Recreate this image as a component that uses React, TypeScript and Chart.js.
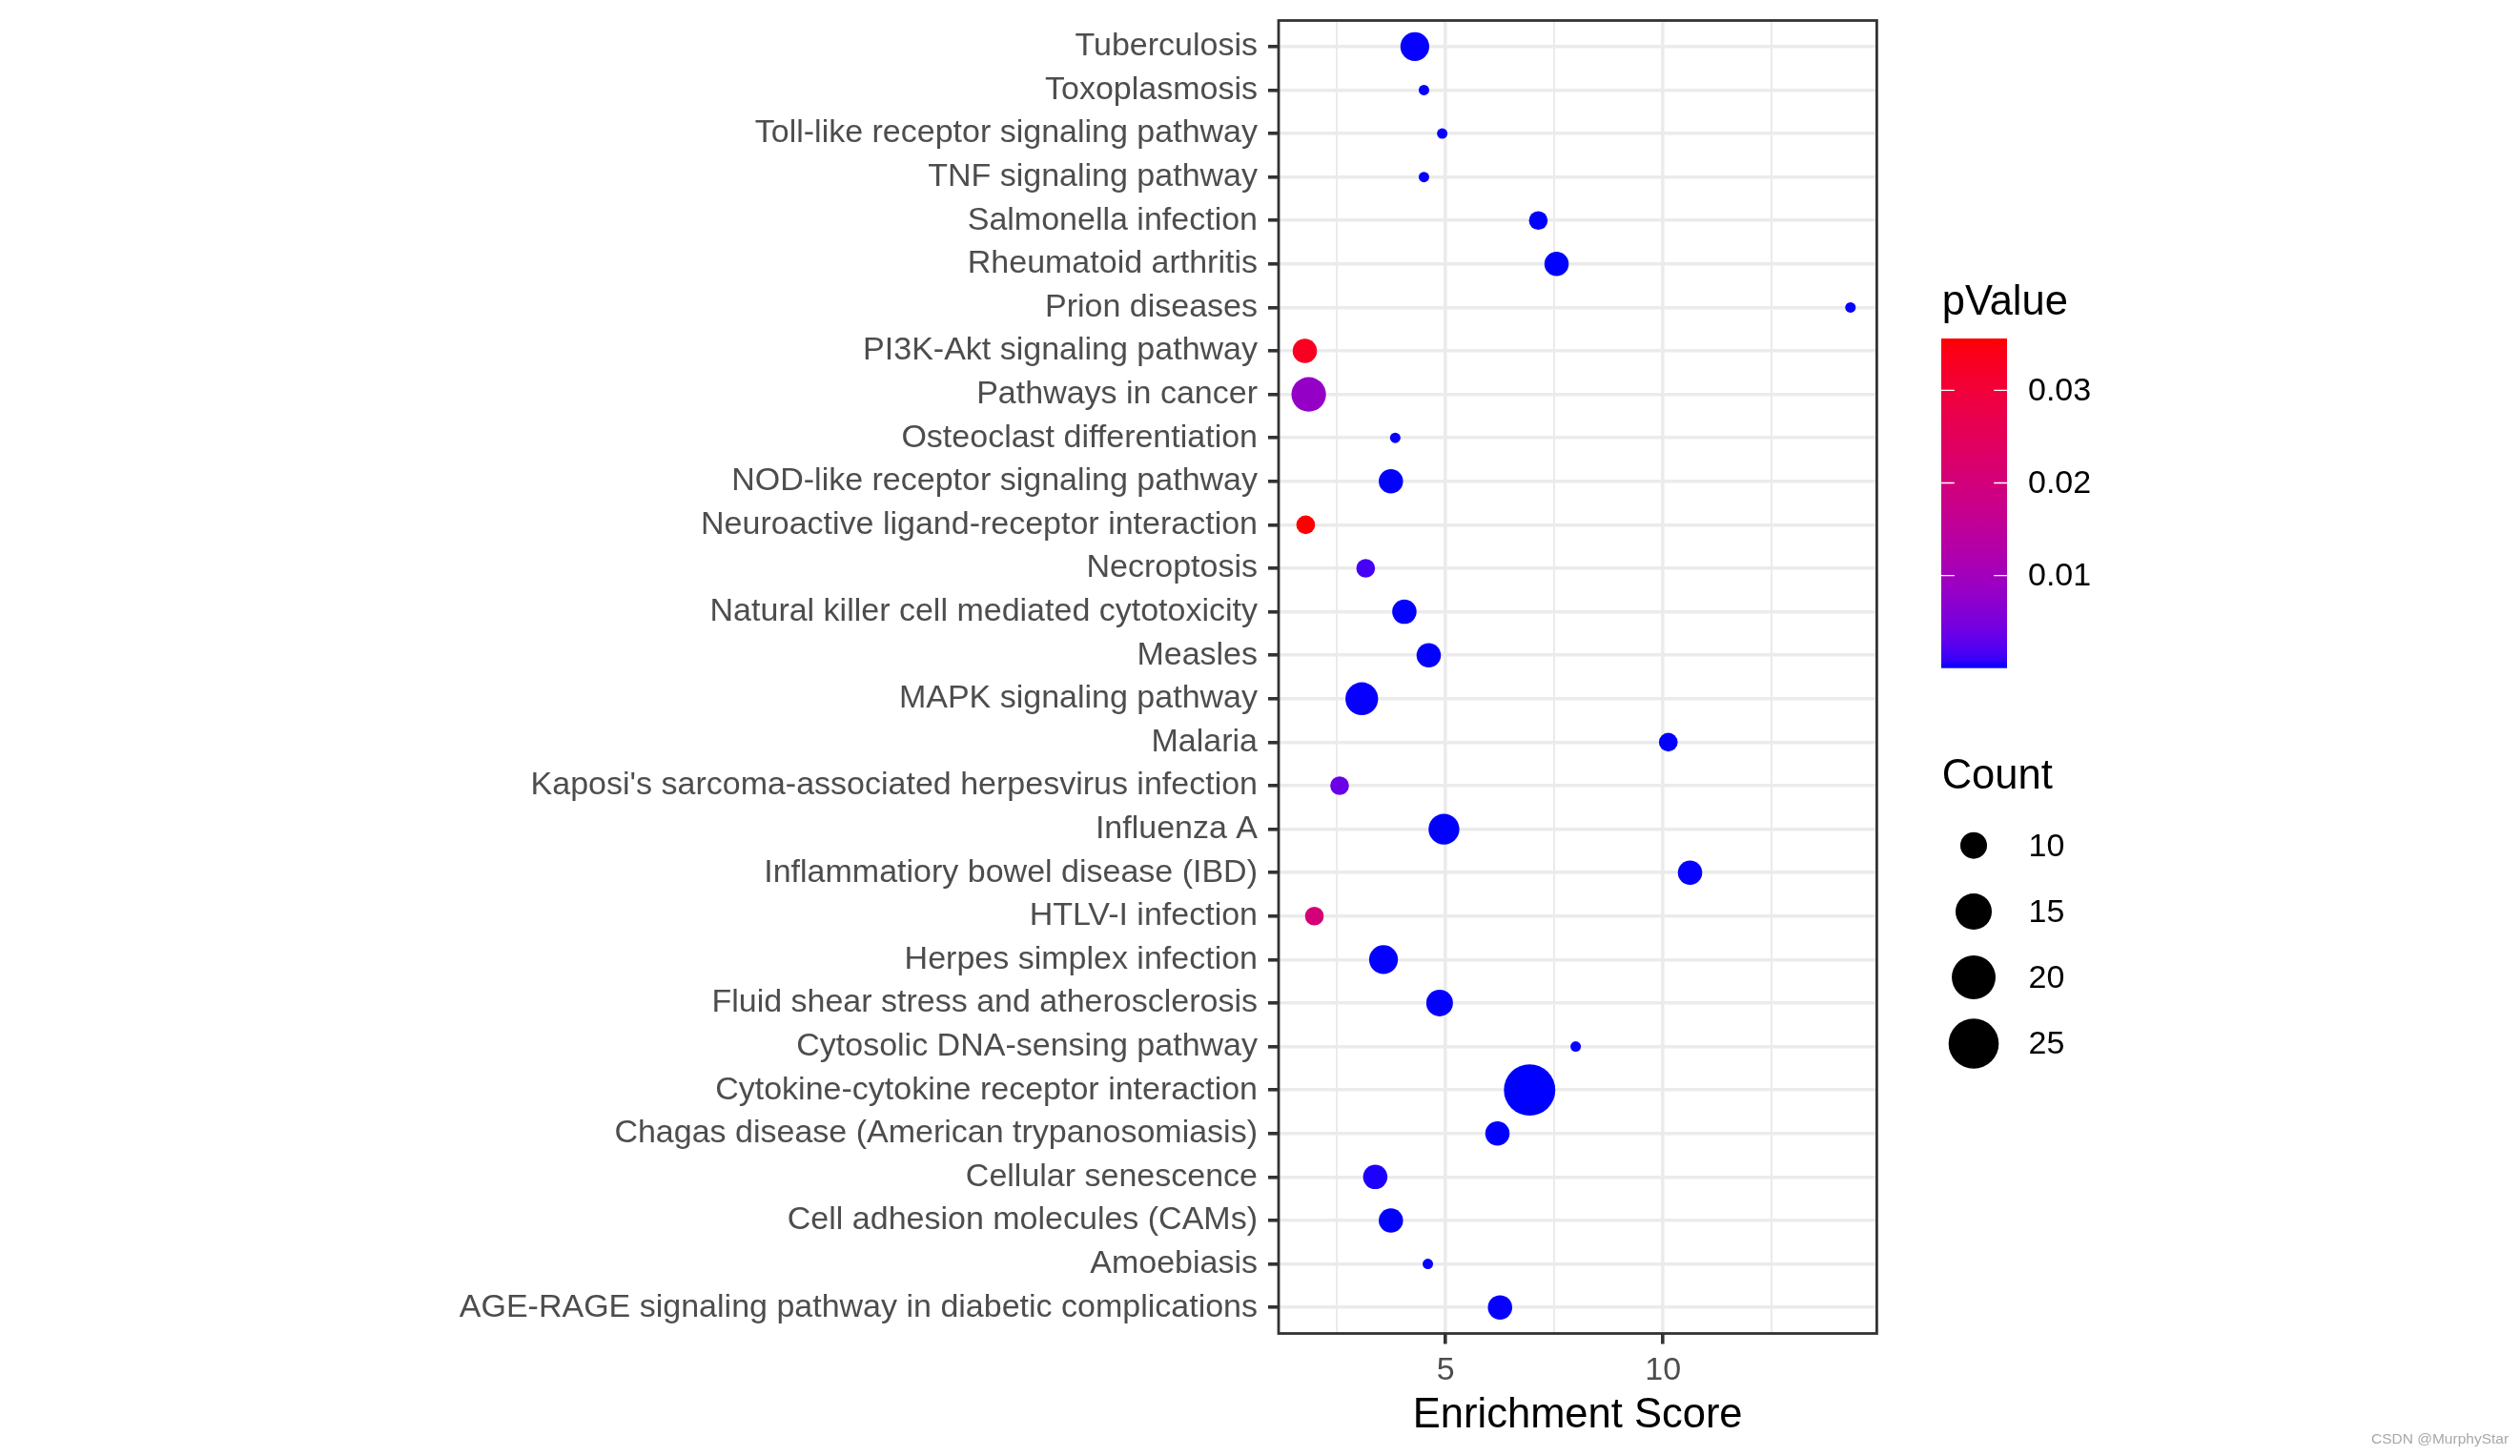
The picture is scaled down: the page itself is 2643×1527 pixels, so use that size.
import React, { useEffect, useRef } from "react";
import { Chart, registerables } from "chart.js";

Chart.register(...registerables);

// ---------------- DATA (listed top to bottom as shown) ----------------
const pathways = [
  "Tuberculosis",
  "Toxoplasmosis",
  "Toll-like receptor signaling pathway",
  "TNF signaling pathway",
  "Salmonella infection",
  "Rheumatoid arthritis",
  "Prion diseases",
  "PI3K-Akt signaling pathway",
  "Pathways in cancer",
  "Osteoclast differentiation",
  "NOD-like receptor signaling pathway",
  "Neuroactive ligand-receptor interaction",
  "Necroptosis",
  "Natural killer cell mediated cytotoxicity",
  "Measles",
  "MAPK signaling pathway",
  "Malaria",
  "Kaposi's sarcoma-associated herpesvirus infection",
  "Influenza A",
  "Inflammatiory bowel disease (IBD)",
  "HTLV-I infection",
  "Herpes simplex infection",
  "Fluid shear stress and atherosclerosis",
  "Cytosolic DNA-sensing pathway",
  "Cytokine-cytokine receptor interaction",
  "Chagas disease (American trypanosomiasis)",
  "Cellular senescence",
  "Cell adhesion molecules (CAMs)",
  "Amoebiasis",
  "AGE-RAGE signaling pathway in diabetic complications",
];

const enrichmentScore = [
  4.29, 4.5, 4.92, 4.5, 7.13, 7.55, 14.31, 1.76, 1.85, 3.84,
  3.74, 1.78, 3.16, 4.05, 4.61, 3.07, 10.12, 2.56, 4.96, 10.62,
  1.98, 3.57, 4.86, 7.99, 6.93, 6.19, 3.38, 3.74, 4.59, 6.25,
];

const geneCount = [
  11, 5, 5, 5, 7, 9, 5, 9, 14, 5,
  9, 7, 7, 9, 9, 13, 7, 7, 12, 9,
  7, 11, 10, 5, 26, 9, 9, 9, 5, 9,
];

const pValue = [
  0.00005, 0.00006, 0.00004, 0.00005, 0.00002, 0.00001, 0.00004, 0.0331, 0.0082, 0.00006,
  0.00003, 0.0356, 0.0015, 0.00004, 0.00003, 0.00006, 0.00003, 0.0036, 0.00001, 0.00004,
  0.0203, 0.00003, 0.00003, 0.00007, 0.000001, 0.00001, 0.0003, 0.00003, 0.00006, 0.00005,
];

const xTickValues = [2.5, 5, 7.5, 10, 12.5];
const xMajorTicks = [5, 10];
const pValueBreaks = [0.01, 0.02, 0.03];
const countBreaks = [10, 15, 20, 25];

const X_MIN = 1.157;
const X_MAX = 14.915;

// ---------------- helpers ----------------
const FONT = "'Liberation Sans', Arial, Helvetica, sans-serif";
const AXIS_TEXT = 34;
const TITLE_TEXT = 43.5;

function toLin(c: number) {
  c /= 255;
  return c <= 0.04045 ? c / 12.92 : Math.pow((c + 0.055) / 1.055, 2.4);
}
function fromLin(c: number) {
  const v = c <= 0.0031308 ? 12.92 * c : 1.055 * Math.pow(c, 1 / 2.4) - 0.055;
  return Math.round(Math.max(0, Math.min(1, v)) * 255);
}
const XN = 0.95047, YN = 1.0, ZN = 1.08883;
function rgbToLab(rgb: number[]) {
  const R = toLin(rgb[0]), G = toLin(rgb[1]), B = toLin(rgb[2]);
  const X = 0.4124 * R + 0.3576 * G + 0.1805 * B;
  const Y = 0.2126 * R + 0.7152 * G + 0.0722 * B;
  const Z = 0.0193 * R + 0.1192 * G + 0.9505 * B;
  const f = (t: number) => (t > 0.008856 ? Math.cbrt(t) : 7.787 * t + 16 / 116);
  const fx = f(X / XN), fy = f(Y / YN), fz = f(Z / ZN);
  return [116 * fy - 16, 500 * (fx - fy), 200 * (fy - fz)];
}
function labToRgb(lab: number[]) {
  const fy = (lab[0] + 16) / 116;
  const fx = fy + lab[1] / 500;
  const fz = fy - lab[2] / 200;
  const inv = (t: number) => (t * t * t > 0.008856 ? t * t * t : (t - 16 / 116) / 7.787);
  const X = XN * inv(fx), Y = YN * inv(fy), Z = ZN * inv(fz);
  const R = 3.2406 * X - 1.5372 * Y - 0.4986 * Z;
  const G = -0.9689 * X + 1.8758 * Y + 0.0415 * Z;
  const B = 0.0557 * X - 0.204 * Y + 1.057 * Z;
  return `rgb(${fromLin(R)},${fromLin(G)},${fromLin(B)})`;
}
const LOW_LAB = rgbToLab([0, 0, 255]);
const HIGH_LAB = rgbToLab([255, 0, 0]);
function gradientColor(t: number) {
  const u = Math.max(0, Math.min(1, t));
  return labToRgb([0, 1, 2].map((k) => LOW_LAB[k] + (HIGH_LAB[k] - LOW_LAB[k]) * u));
}

const P_MIN = Math.min(...pValue);
const P_MAX = Math.max(...pValue);
const pColor = (p: number) => gradientColor((p - P_MIN) / (P_MAX - P_MIN));
const diameter = (c: number) => Math.sqrt(Math.max(132.6 * c - 542, 16));

const N = pathways.length;
const labelsBottomUp = pathways.slice().reverse();

// ---------------- plugin: panel border, legends, watermark ----------------
const decorPlugin = {
  id: "decor",
  afterDraw(chart: any) {
    const { ctx, chartArea } = chart;
    const { left, top, right, bottom } = chartArea;
    ctx.save();

    // panel border
    ctx.strokeStyle = "#333333";
    ctx.lineWidth = 2.8;
    ctx.strokeRect(left, top, right - left, bottom - top);

    // ---- pValue colourbar ----
    const barX = 2036, barW = 69, barTop = 355, barH = 345.7;
    ctx.fillStyle = "#000000";
    ctx.font = `${TITLE_TEXT}px ${FONT}`;
    ctx.textAlign = "left";
    ctx.textBaseline = "alphabetic";
    ctx.fillText("pValue", 2036.7, 330);

    const grad = ctx.createLinearGradient(0, barTop + barH, 0, barTop);
    for (let k = 0; k <= 40; k++) grad.addColorStop(k / 40, gradientColor(k / 40));
    ctx.fillStyle = grad;
    ctx.fillRect(barX, barTop, barW, barH);

    ctx.strokeStyle = "#FFFFFF";
    ctx.lineWidth = 1.3;
    ctx.font = `${AXIS_TEXT}px ${FONT}`;
    ctx.textBaseline = "middle";
    pValueBreaks.forEach((v) => {
      const y = barTop + barH - ((v - P_MIN) / (P_MAX - P_MIN)) * barH;
      ctx.beginPath();
      ctx.moveTo(barX, y);
      ctx.lineTo(barX + barW / 5, y);
      ctx.moveTo(barX + (barW * 4) / 5, y);
      ctx.lineTo(barX + barW, y);
      ctx.stroke();
      ctx.fillStyle = "#000000";
      ctx.fillText(v.toFixed(2), 2127, y + 1);
    });

    // ---- Count legend ----
    ctx.font = `${TITLE_TEXT}px ${FONT}`;
    ctx.textBaseline = "alphabetic";
    ctx.fillStyle = "#000000";
    ctx.fillText("Count", 2036.7, 826.7);
    const keyY = [886.7, 956, 1025, 1094.5];
    ctx.font = `${AXIS_TEXT}px ${FONT}`;
    ctx.textBaseline = "middle";
    countBreaks.forEach((c, i) => {
      ctx.beginPath();
      ctx.arc(2070, keyY[i], diameter(c) / 2, 0, Math.PI * 2);
      ctx.fillStyle = "#000000";
      ctx.fill();
      ctx.fillText(String(c), 2127.5, keyY[i] + 1.5);
    });

    // watermark
    ctx.font = `15.5px ${FONT}`;
    ctx.fillStyle = "#A8A8A8";
    ctx.textBaseline = "middle";
    ctx.fillText("CSDN @MurphyStar", 2487, 1510);

    ctx.restore();
  },
};

export default function App() {
  const canvasRef = useRef<HTMLCanvasElement>(null);

  useEffect(() => {
    const canvas = canvasRef.current;
    if (!canvas) return;

    const points = pathways.map((_, i) => ({ x: enrichmentScore[i], y: N - 1 - i }));
    const radii = geneCount.map((c) => diameter(c) / 2);
    const colors = pValue.map((p) => pColor(p));

    const isMajorX = (ctx: any) => !!ctx.tick && xMajorTicks.includes(ctx.tick.value);

    const chart = new Chart(canvas, {
      type: "scatter",
      data: {
        datasets: [
          {
            data: points,
            pointRadius: radii,
            pointHoverRadius: radii,
            pointBackgroundColor: colors,
            pointBorderColor: colors,
            pointBorderWidth: 0,
            pointHoverBorderWidth: 0,
            showLine: false,
          },
        ],
      },
      options: {
        responsive: false,
        animation: false,
        devicePixelRatio: 1,
        events: [],
        layout: {
          autoPadding: false,
          padding: { left: 0, top: 21.5, right: 2643 - 1968.4, bottom: 0 },
        },
        plugins: {
          legend: { display: false },
          tooltip: { enabled: false },
        },
        scales: {
          x: {
            type: "linear",
            position: "bottom",
            min: X_MIN,
            max: X_MAX,
            afterBuildTicks: (axis: any) => {
              axis.ticks = xTickValues.map((v) => ({ value: v }));
            },
            afterFit: (s: any) => {
              s.height = 128.5;
              s.paddingLeft = 0;
              s.paddingRight = 0;
            },
            border: { display: false },
            grid: {
              color: "#EBEBEB",
              lineWidth: (ctx: any) => (isMajorX(ctx) ? 3.6 : 2.0),
              drawTicks: true,
              tickLength: 11,
              tickWidth: 3.6,
              tickColor: (ctx: any) => (isMajorX(ctx) ? "#333333" : "rgba(0,0,0,0)"),
            },
            ticks: {
              autoSkip: false,
              maxRotation: 0,
              minRotation: 0,
              padding: 7.6,
              color: "#4D4D4D",
              font: { family: FONT, size: AXIS_TEXT },
              callback: (v: any) => (xMajorTicks.includes(Number(v)) ? String(v) : ""),
            },
            title: {
              display: true,
              text: "Enrichment Score",
              color: "#000000",
              font: { family: FONT, size: TITLE_TEXT },
              padding: { top: 0, bottom: 15.9 },
            },
          },
          y: {
            type: "linear",
            position: "left",
            min: -0.6,
            max: N - 0.4,
            afterBuildTicks: (axis: any) => {
              axis.ticks = labelsBottomUp.map((_, i) => ({ value: i }));
            },
            afterFit: (s: any) => {
              s.width = 1341;
              s.paddingTop = 0;
              s.paddingBottom = 0;
            },
            border: { display: false },
            grid: {
              color: "#EBEBEB",
              lineWidth: 3.6,
              drawTicks: true,
              tickLength: 11,
              tickWidth: 3.6,
              tickColor: "#333333",
            },
            ticks: {
              autoSkip: false,
              padding: 11,
              color: "#4D4D4D",
              font: { family: FONT, size: AXIS_TEXT },
              callback: (v: any) => labelsBottomUp[Math.round(Number(v))] ?? "",
            },
          },
        },
      } as any,
      plugins: [decorPlugin],
    } as any);

    return () => chart.destroy();
  }, []);

  return (
    <div
      style={{
        position: "absolute",
        left: 0,
        top: 0,
        width: 2643,
        height: 1527,
        background: "#FFFFFF",
        overflow: "hidden",
      }}
    >
      <canvas
        ref={canvasRef}
        width={2643}
        height={1527}
        style={{ display: "block", width: 2643, height: 1527 }}
      />
    </div>
  );
}
